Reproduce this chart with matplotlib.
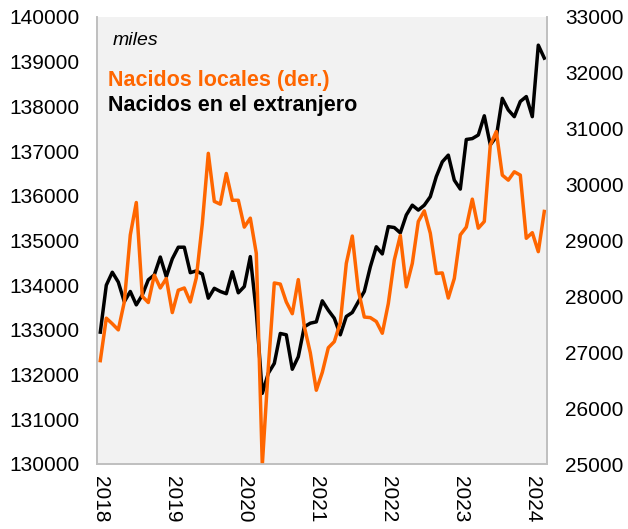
import numpy as np
import matplotlib
matplotlib.use("Agg")
import matplotlib.pyplot as plt

plt.rcParams['font.family'] = ['Liberation Sans', 'DejaVu Sans']

# mensual, ene-2018 a mar-2024 (miles)
extranjero = [
    132950, 134000, 134290, 134070, 133630, 133860, 133560, 133780, 134120, 134230, 134630, 134190,
    134590, 134850, 134850, 134280, 134320, 134250, 133710, 133930, 133860, 133810, 134300, 133830,
    133970, 134640, 133400, 131580, 132030, 132250, 132920, 132890, 132120, 132400, 133070, 133150,
    133180, 133650, 133440, 133260, 132890, 133300, 133390, 133630, 133860, 134410, 134860, 134700,
    135310, 135290, 135170, 135570, 135790, 135680, 135790, 135980, 136430, 136760, 136910, 136350,
    136150, 137260, 137280, 137360, 137790, 137140, 137320, 138180, 137920, 137770, 138110, 138220,
    137770, 139370, 139080,
]
locales = [
    26850, 27610, 27510, 27400, 27900, 29100, 29680, 28000, 27890, 28380, 28150, 28320,
    27710, 28110, 28150, 27900, 28330, 29300, 30560, 29700, 29650, 30200, 29720, 29720,
    29240, 29400, 28770, 24980, 26720, 28240, 28220, 27900, 27690, 28300, 27460, 26990,
    26320, 26640, 27080, 27190, 27530, 28590, 29080, 28110, 27630, 27620, 27550, 27340,
    27870, 28650, 29090, 28170, 28590, 29340, 29530, 29130, 28410, 28420, 27970, 28320,
    29100, 29240, 29740, 29220, 29340, 30710, 30950, 30170, 30080, 30230, 30170, 29040,
    29140, 28800, 29520,
]
years = ["2018", "2019", "2020", "2021", "2022", "2023", "2024"]

naranja = "#FF6600"
x = np.arange(len(extranjero))

fig = plt.figure(figsize=(6.28, 5.29), dpi=100)
ax = fig.add_axes([97.3 / 628, 1 - 464 / 529, 450 / 628, 447 / 529])
ax.set_facecolor("#F2F2F2")
ax2 = ax.twinx()

ax.plot(x, extranjero, color="black", lw=2.5)
ax2.plot(x, locales, color=naranja, lw=2.5)

ax.set_xlim(-0.5, 74.5)
ax.set_ylim(130000, 140000)
ax2.set_ylim(25000, 33000)
ax.set_yticks(np.arange(130000, 140001, 1000))
ax2.set_yticks(np.arange(25000, 33001, 1000))
ax.set_xticks(np.arange(0, 12 * len(years), 12))
ax.set_xticklabels(years, rotation=270, fontsize=15)

ax.tick_params(axis="y", length=0, pad=13, labelsize=15)
ax2.tick_params(axis="y", length=0, pad=13, labelsize=15)
ax.tick_params(axis="x", length=0, pad=9)

for a in (ax, ax2):
    a.spines["top"].set_visible(False)
    for s in ("left", "bottom", "right"):
        a.spines[s].set_color("#BFBFBF")
        a.spines[s].set_linewidth(1.2)

ax.text(0.035, 0.9485, "miles", transform=ax.transAxes, fontsize=14,
        style="italic", va="center", ha="left")
ax.text(0.024, 0.859, "Nacidos locales (der.)", transform=ax.transAxes,
        fontsize=15.5, fontweight="bold", color=naranja, va="center", ha="left")
ax.text(0.024, 0.803, "Nacidos en el extranjero", transform=ax.transAxes,
        fontsize=15.5, fontweight="bold", color="black", va="center", ha="left")

fig.savefig("out.png", dpi=100)
